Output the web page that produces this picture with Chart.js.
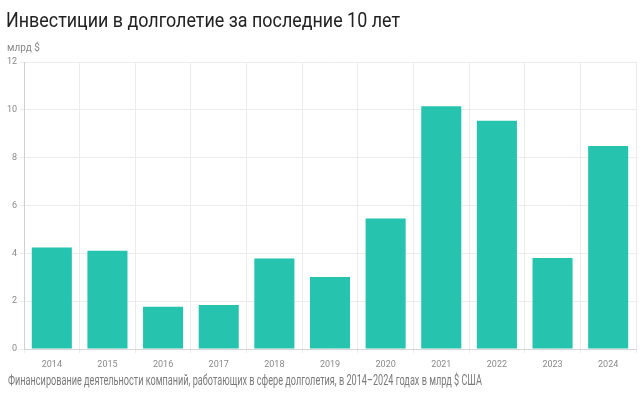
<!DOCTYPE html>
<html>
<head>
<meta charset="utf-8">
<script src="https://cdn.jsdelivr.net/npm/chart.js@4"></script>
<style>
  html, body { margin: 0; padding: 0; background: #fff; }
  #wrap { position: relative; width: 644px; height: 400px; overflow: hidden; font-family: Roboto, sans-serif; }
  #myChart { position: absolute; left: 0; top: 0; }
  .title { position: absolute; left: 6px; top: 8px; font-size: 20px; color: #222; white-space: nowrap; transform-origin: 0 0; }
  .unit { position: absolute; left: 7px; top: 42px; font-size: 10px; color: #888; white-space: nowrap; }
  .caption { position: absolute; left: 8px; top: 372px; font-size: 14px; color: #7a7a7a; white-space: nowrap; transform-origin: 0 0; }
</style>
</head>
<body>
<div id="wrap">
  <canvas id="myChart" width="644" height="400"></canvas>
  <div class="title" id="title">Инвестиции в долголетие за последние 10 лет</div>
  <div class="unit">млрд $</div>
  <div class="caption" id="caption">Финансирование деятельности компаний, работающих в сфере долголетия, в 2014–2024 годах в млрд $ США</div>
</div>
<script>
const years = ['2014', '2015', '2016', '2017', '2018', '2019', '2020', '2021', '2022', '2023', '2024'];
const investments = [4.24, 4.11, 1.77, 1.84, 3.78, 3.01, 5.46, 10.15, 9.54, 3.81, 8.49];
const yTicks = [0, 2, 4, 6, 8, 10, 12];

// squeeze caption / title to the widths seen in the picture
function fitWidth(id, width) {
  const el = document.getElementById(id);
  const w = el.getBoundingClientRect().width;
  if (w > width) el.style.transform = 'scaleX(' + (width / w) + ')';
}
fitWidth('title', 394);
fitWidth('caption', 474);

const ctx = document.getElementById('myChart');

const myChart = new Chart(ctx, {
  type: 'bar',
  data: {
    labels: years,
    datasets: [{
      label: 'Инвестиции',
      data: investments,
      backgroundColor: '#26c4ae',
      borderWidth: 0
    }]
  },
  options: {
    responsive: false,
    animation: false,
    layout: { padding: { left: 0, right: 8, top: 62, bottom: 24 } },
    plugins: {
      legend: { display: false },
      tooltip: { enabled: false }
    },
    scales: {
      x: {
        afterFit: scale => { scale.height = 27; },
        grid: {
          color: ctx => ctx.index === years.length ? 'rgba(0,0,0,0)' : '#ececec',
          tickLength: 4
        },
        border: { color: '#d6d6d6' },
        ticks: {
          color: '#8a8a8a',
          padding: 6,
          font: { family: 'Roboto', size: 9 }
        }
      },
      y: {
        min: 0,
        max: 12,
        afterFit: scale => { scale.width = 24; },
        afterBuildTicks: scale => { scale.ticks = yTicks.map(v => ({ value: v })); },
        grid: { color: '#ececec', tickLength: 4 },
        border: { color: '#d0d0d0' },
        ticks: {
          color: '#8a8a8a',
          padding: 3,
          font: { family: 'Roboto', size: 9 }
        }
      }
    }
  }
});
</script>
</body>
</html>
